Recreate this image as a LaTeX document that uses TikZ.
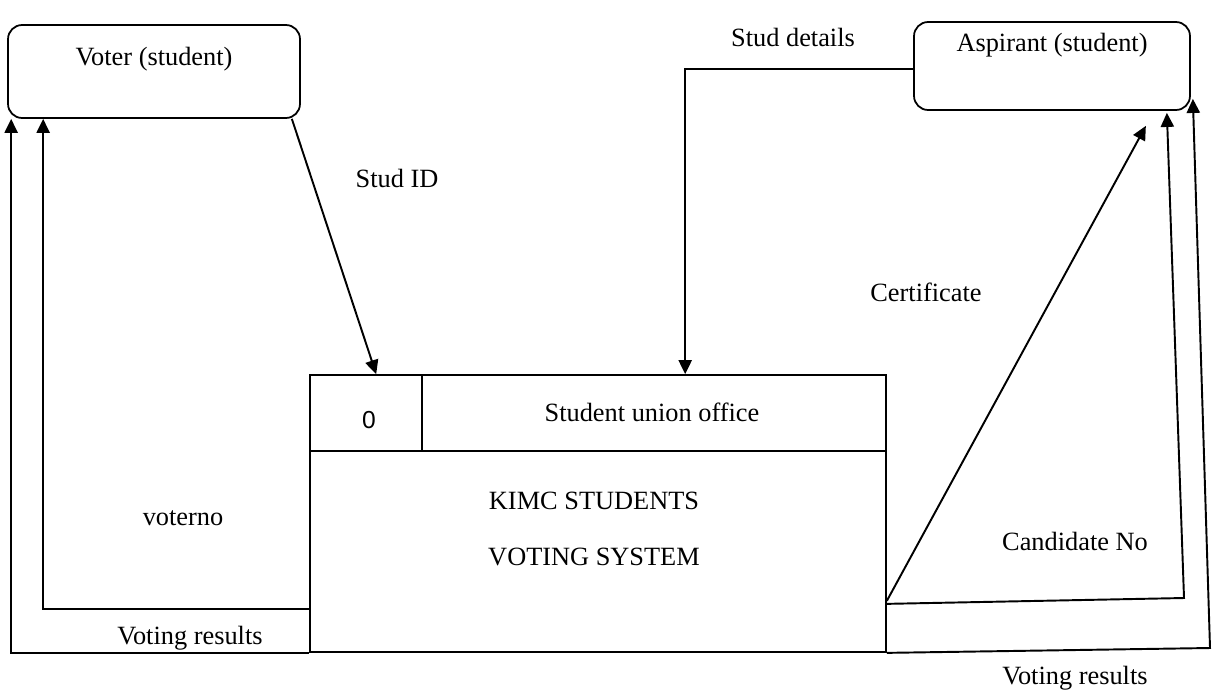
\documentclass[tikz,border=0pt]{standalone}
\usepackage{fontspec}
\setmainfont{Liberation Serif}
\newfontfamily\arialfont{Liberation Sans}
\usetikzlibrary{arrows.meta,calc,positioning}
\begin{document}
\begin{tikzpicture}[x=0.02cm,y=-0.02cm,
    entidad/.style={draw,line width=1pt,rounded corners=8pt,
      font=\fontsize{15}{18}\selectfont},
    linea/.style={line width=1.1pt},
    flujo/.style={line width=1.1pt,-{Triangle[length=8pt,width=7.5pt]}},
    etiq/.style={inner sep=0pt,font=\fontsize{15}{18}\selectfont}]
  \useasboundingbox (0,0) rectangle (1212,697);
  % Entidades externas
  \node[entidad,minimum width=5.84cm,minimum height=1.86cm,text depth=0.62cm]
    (voter) at (154,71.5) {Voter (student)};
  \node[entidad,minimum width=5.52cm,minimum height=1.76cm,text depth=0.96cm]
    (asp) at (1052,66) {Aspirant (student)};
  % Proceso
  \node[draw,line width=1pt,minimum width=11.52cm,minimum height=5.54cm]
    (proc) at (598,513.5) {};
  \draw[linea] (proc.west |- 0,451) -- (proc.east |- 0,451);
  \draw[linea] ($(proc.north west)+(113,0)$) -- ($(proc.north west)+(113,76)$);
  \node[etiq,font=\arialfont\fontsize{14}{17}\selectfont] (num) at (369,420) {0};
  \node[etiq] (oficina) at (652,412) {Student union office};
  \node[etiq] (sis1) at (594,501) {KIMC STUDENTS};
  \node[etiq] (sis2) at (594,557) {VOTING SYSTEM};
  % Flujos de entrada
  \draw[flujo] ($(voter.south east)+(-9,0)$) -- ($(proc.north west)+(67,0)$);
  \node[etiq] (studid) at (397,178) {Stud ID};
  \draw[flujo] ($(asp.west)+(0,3)$) -| ($(proc.north west)+(376,0)$);
  \node[etiq] (studdet) at (793,37) {Stud details};
  % Flujos hacia el votante
  \draw[flujo] ($(proc.south west)+(0,-44)$) -| ($(voter.south west)+(36,0)$);
  \node[etiq] (voterno) at (183,518) {voterno};
  \draw[flujo] (proc.south west) -| ($(voter.south west)+(4,0)$);
  \node[etiq] (res1) at (190,638) {Voting results};
  % Flujos hacia el aspirante
  \coordinate (c1) at (1184,598);
  \coordinate (c2) at (1210,648);
  \draw[flujo] ($(proc.south east)+(0,-52)$) -- ($(asp.south east)+(-45,15)$);
  \node[etiq] (cert) at (926,292) {Certificate};
  \draw[flujo] ($(proc.south east)+(0,-49)$) -- (c1) -- ($(asp.south east)+(-24,2)$);
  \node[etiq] (cand) at (1075,541) {Candidate No};
  \draw[flujo] (proc.south east) -- (c2) -- ($(asp.south east)+(2,-12)$);
  \node[etiq] (res2) at (1075,678) {Voting results};
\end{tikzpicture}
\end{document}
